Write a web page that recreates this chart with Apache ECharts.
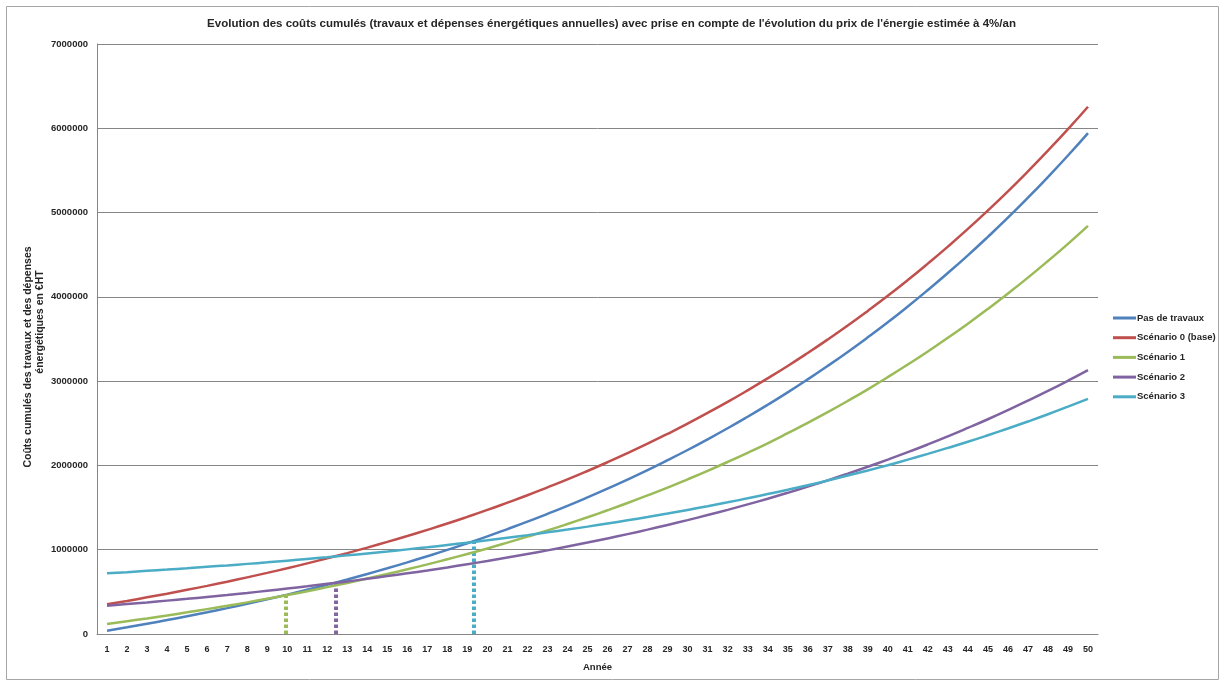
<!DOCTYPE html>
<html>
<head>
<meta charset="utf-8">
<script src="https://cdn.jsdelivr.net/npm/echarts@6/dist/echarts.min.js"></script>
<style>
  html, body { margin: 0; padding: 0; background: #ffffff; }
  #chart { width: 1223px; height: 684px; }
</style>
</head>
<body>
<div id="chart"></div>
<script>
// Années de la simulation (axe des abscisses)
const years = ['1','2','3','4','5','6','7','8','9','10','11','12','13','14','15','16','17','18','19','20',
  '21','22','23','24','25','26','27','28','29','30','31','32','33','34','35','36','37','38','39','40',
  '41','42','43','44','45','46','47','48','49','50'];

// Coûts cumulés (€HT) par scénario
const pasDeTravaux = [39000,79000,122000,165000,211000,258000,307000,359000,412000,467000,
  525000,585000,647000,712000,780000,850000,923000,998000,1077000,1159000,
  1245000,1333000,1426000,1521000,1621000,1725000,1833000,1945000,2062000,2183000,
  2310000,2441000,2578000,2720000,2867000,3021000,3181000,3347000,3520000,3699000,
  3886000,4081000,4283000,4493000,4712000,4939000,5176000,5422000,5677000,5943000];

const scenario0 = [352000,392000,435000,478000,524000,571000,620000,672000,725000,780000,
  838000,898000,960000,1025000,1093000,1163000,1236000,1311000,1390000,1472000,
  1558000,1646000,1739000,1834000,1934000,2038000,2146000,2258000,2375000,2496000,
  2623000,2754000,2891000,3033000,3180000,3334000,3494000,3660000,3833000,4012000,
  4199000,4394000,4596000,4806000,5025000,5252000,5489000,5735000,5990000,6256000];

const scenario1 = [119000,152000,185000,220000,257000,295000,334000,375000,418000,462000,
  508000,556000,606000,658000,712000,768000,826000,887000,950000,1015000,
  1084000,1155000,1228000,1305000,1385000,1468000,1554000,1644000,1737000,1835000,
  1936000,2041000,2150000,2263000,2382000,2504000,2632000,2765000,2903000,3047000,
  3197000,3352000,3514000,3682000,3857000,4039000,4228000,4425000,4629000,4842000];

const scenario2 = [336000,355000,375000,396000,417000,440000,463000,487000,513000,539000,
  566000,595000,624000,655000,687000,720000,754000,790000,828000,866000,
  907000,949000,992000,1038000,1085000,1134000,1185000,1238000,1294000,1351000,
  1411000,1473000,1538000,1605000,1675000,1748000,1823000,1902000,1984000,2069000,
  2157000,2249000,2345000,2445000,2548000,2656000,2768000,2884000,3005000,3131000];

const scenario3 = [720000,734000,749000,764000,780000,797000,814000,832000,850000,870000,
  890000,911000,933000,956000,979000,1004000,1029000,1056000,1084000,1112000,
  1142000,1173000,1206000,1239000,1274000,1311000,1349000,1388000,1429000,1472000,
  1516000,1562000,1610000,1660000,1711000,1765000,1821000,1880000,1940000,2003000,
  2069000,2137000,2208000,2281000,2358000,2438000,2521000,2607000,2697000,2790000];

// Temps de retour : année (fractionnaire) et coût au point de croisement avec « Pas de travaux »
const breakEvenYears = [9.94, 12.44, 19.33];
const breakEvenCosts = [452000, 603000, 1105000];

// Graduations de l'axe vertical
const yTicks = [0, 1000000, 2000000, 3000000, 4000000, 5000000, 6000000, 7000000];

const seriesNames = ['Pas de travaux', 'Scénario 0 (base)', 'Scénario 1', 'Scénario 2', 'Scénario 3'];
const seriesData = [pasDeTravaux, scenario0, scenario1, scenario2, scenario3];
const colors = ['#4F81BD', '#C0504D', '#9BBB59', '#8064A2', '#4BACC6'];
const breakEvenColors = ['#9BBB59', '#8064A2', '#4BACC6'];

const FONT = "'Liberation Sans', Arial, sans-serif";
const TXT = '#262626';

const lineSeries = seriesNames.map((name, i) => ({
  name: name,
  type: 'line',
  data: seriesData[i],
  xAxisIndex: 0,
  yAxisIndex: 0,
  showSymbol: false,
  smooth: true,
  lineStyle: { width: 2.5, color: colors[i] },
  itemStyle: { color: colors[i] },
  z: 3 + i
}));

const dashSeries = breakEvenYears.map((yr, i) => ({
  name: 'retour' + (i + 1),
  type: 'line',
  xAxisIndex: 1,
  yAxisIndex: 0,
  data: [[yr, 0], [yr, breakEvenCosts[i]]],
  showSymbol: false,
  silent: true,
  lineStyle: { width: 4, color: breakEvenColors[i], type: [3.5, 2.5] },
  z: 2
}));

const chart = echarts.init(document.getElementById('chart'));
chart.setOption({
  animation: false,
  backgroundColor: '#ffffff',
  textStyle: { fontFamily: FONT },
  title: {
    text: "Evolution des coûts cumulés (travaux et dépenses énergétiques annuelles) avec prise en compte de l'évolution du prix de l'énergie estimée à 4%/an",
    left: 'center',
    top: 13,
    textStyle: { fontSize: 11.5, fontWeight: 'bold', color: TXT, fontFamily: FONT }
  },
  graphic: [
    {
      type: 'rect',
      shape: { x: 6.5, y: 6.5, width: 1212, height: 673 },
      style: { fill: 'none', stroke: '#a6a6a6', lineWidth: 1 },
      silent: true, z: -1
    },
    {
      type: 'text',
      x: 28, y: 357, rotation: Math.PI / 2,
      style: { text: 'Coûts cumulés des travaux et des dépenses', font: 'bold 10.5px ' + FONT, fill: TXT,
        textAlign: 'center', textVerticalAlign: 'middle' }
    },
    {
      type: 'text',
      x: 40, y: 322, rotation: Math.PI / 2,
      style: { text: 'énergétiques en €HT', font: 'bold 10.5px ' + FONT, fill: TXT,
        textAlign: 'center', textVerticalAlign: 'middle' }
    }
  ],
  legend: {
    data: seriesNames,
    orient: 'vertical',
    left: 1108,
    top: 308,
    icon: 'rect',
    itemWidth: 23,
    itemHeight: 3,
    itemGap: 9.7,
    textStyle: { fontSize: 9.5, fontWeight: 'bold', color: TXT, fontFamily: FONT, padding: [0, 0, 0, -4] }
  },
  grid: { left: 97, right: 125, top: 44, bottom: 50, containLabel: false },
  xAxis: [
    {
      type: 'category',
      data: years,
      boundaryGap: true,
      name: 'Année',
      nameLocation: 'middle',
      nameGap: 28,
      nameTextStyle: { fontSize: 9.5, fontWeight: 'bold', color: TXT },
      axisLine: { lineStyle: { color: '#868686', width: 1 } },
      axisTick: { show: false },
      axisLabel: { interval: 0, fontSize: 9, fontWeight: 'bold', color: TXT, margin: 11 },
      splitLine: { show: false }
    },
    {
      type: 'value',
      min: 0.5,
      max: 50.5,
      show: false,
      splitLine: { show: false }
    }
  ],
  yAxis: {
    type: 'value',
    min: yTicks[0],
    max: yTicks[yTicks.length - 1],
    interval: yTicks[1] - yTicks[0],
    axisLine: { show: true, lineStyle: { color: '#868686', width: 1 } },
    axisTick: { show: false },
    axisLabel: { fontSize: 9.5, fontWeight: 'bold', color: TXT, margin: 9, formatter: v => String(v) },
    splitLine: { lineStyle: { color: '#868686', width: 1 } }
  },
  series: dashSeries.concat(lineSeries)
});
</script>
</body>
</html>
